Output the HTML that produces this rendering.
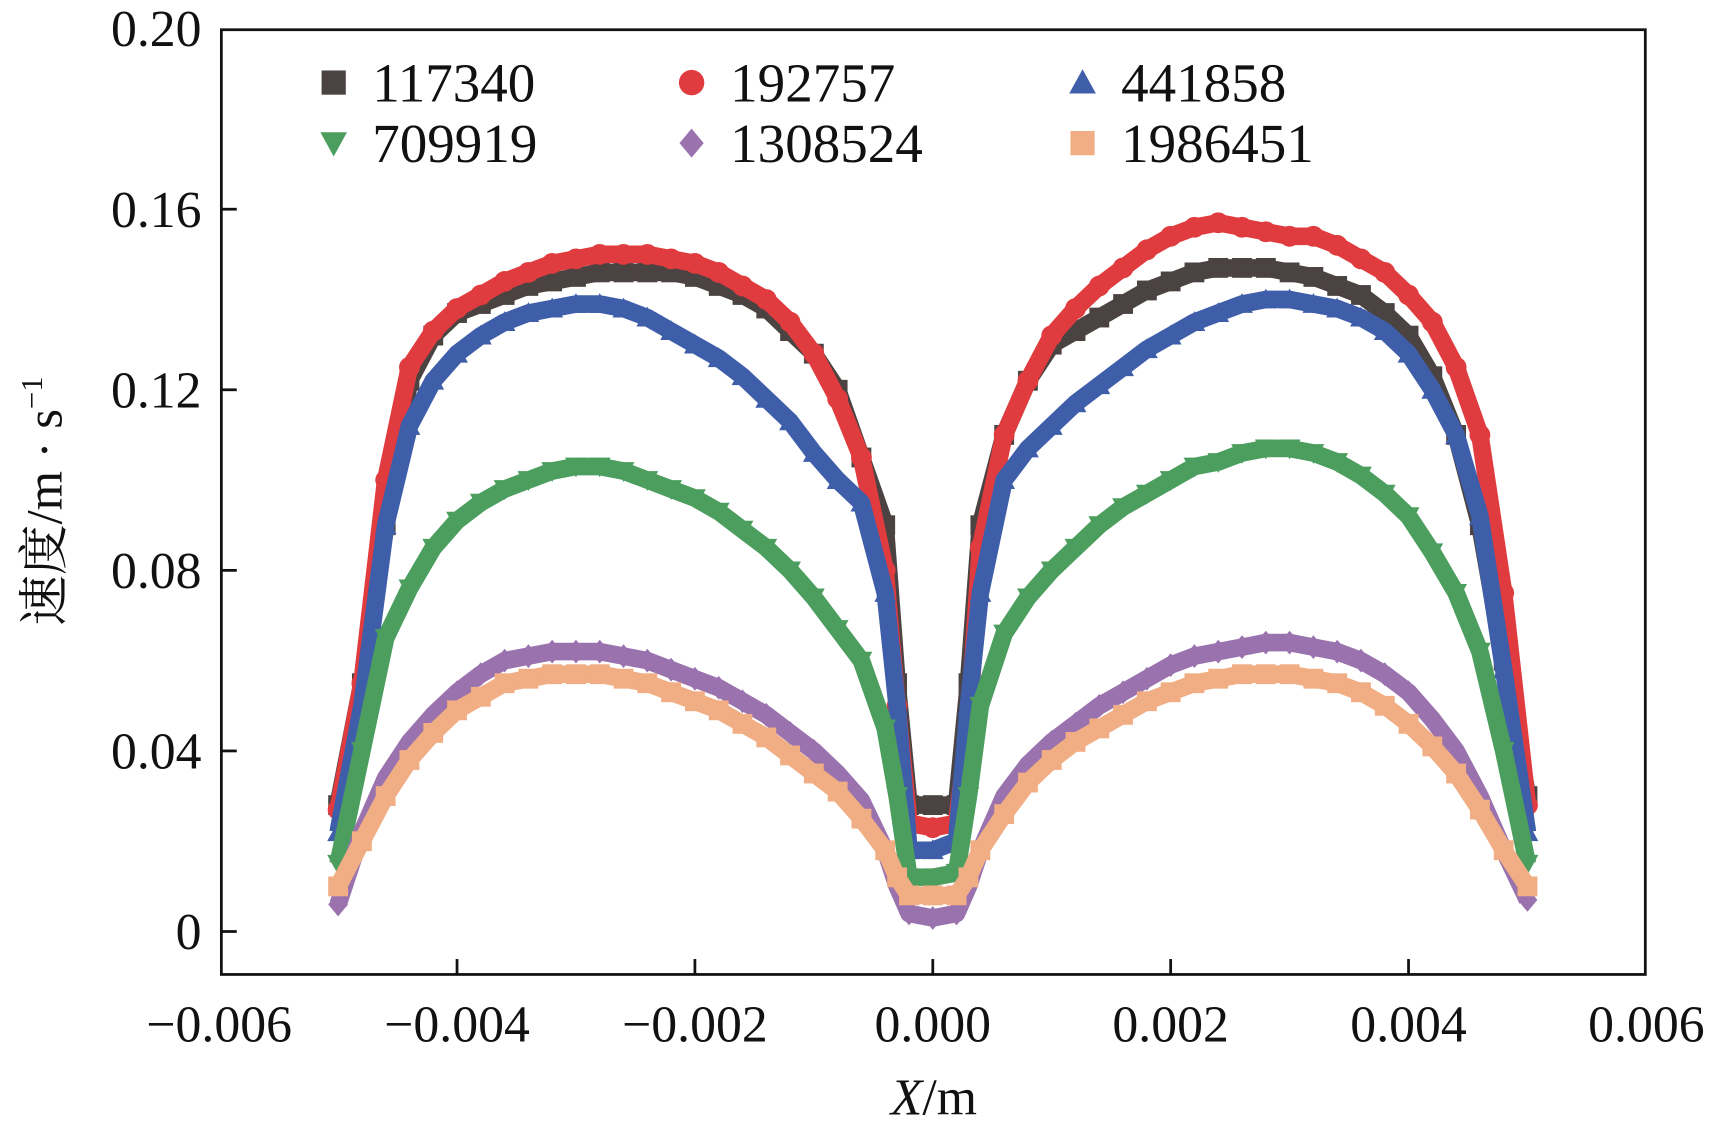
<!DOCTYPE html>
<html><head><meta charset="utf-8"><style>
html,body{margin:0;padding:0;background:#fff;}
svg{display:block;}
text{font-family:"Liberation Serif","Noto Serif CJK SC",serif;fill:#111;}
</style></head><body>
<svg id="chart" width="1718" height="1122" viewBox="0 0 1560 1019" preserveAspectRatio="none" xmlns="http://www.w3.org/2000/svg">
<rect x="0" y="0" width="1560" height="1019" fill="#fff"/>
<g id="marks"></g>
<g id="axes"></g>
<g id="legend"></g>
</svg>
<script>
const xs=[-0.005,-0.0048,-0.0046,-0.0044,-0.0042,-0.004,-0.0038,-0.0036,-0.0034,-0.0032,-0.003,-0.0028,-0.0026,-0.0024,-0.0022,-0.002,-0.0018,-0.0016,-0.0014,-0.0012,-0.001,-0.0008,-0.0006,-0.0004,-0.0003,-0.0002,0,0.0002,0.0003,0.0004,0.0006,0.0008,0.001,0.0012,0.0014,0.0016,0.0018,0.002,0.0022,0.0024,0.0026,0.0028,0.003,0.0032,0.0034,0.0036,0.0038,0.004,0.0042,0.0044,0.0046,0.0048,0.005];
const s117340=[0.028,0.055,0.090,0.122,0.132,0.137,0.139,0.141,0.143,0.144,0.145,0.146,0.146,0.146,0.146,0.145,0.143,0.141,0.138,0.133,0.128,0.120,0.105,0.090,0.055,0.028,0.028,0.028,0.055,0.090,0.110,0.122,0.130,0.133,0.136,0.139,0.142,0.144,0.146,0.147,0.147,0.147,0.146,0.145,0.143,0.141,0.137,0.132,0.123,0.110,0.090,0.060,0.030];
const s192757=[0.027,0.055,0.100,0.125,0.133,0.138,0.141,0.144,0.146,0.148,0.149,0.150,0.150,0.150,0.149,0.148,0.146,0.143,0.140,0.135,0.128,0.118,0.105,0.080,0.050,0.024,0.023,0.024,0.045,0.085,0.110,0.122,0.132,0.138,0.143,0.147,0.151,0.154,0.156,0.157,0.156,0.155,0.154,0.154,0.152,0.149,0.146,0.141,0.135,0.125,0.110,0.075,0.028];
const s441858=[0.022,0.050,0.090,0.112,0.122,0.128,0.132,0.135,0.137,0.138,0.139,0.139,0.138,0.136,0.133,0.130,0.127,0.123,0.118,0.113,0.106,0.100,0.095,0.075,0.050,0.018,0.018,0.020,0.050,0.075,0.100,0.107,0.112,0.117,0.121,0.125,0.129,0.132,0.135,0.137,0.139,0.140,0.140,0.139,0.138,0.136,0.133,0.128,0.120,0.110,0.092,0.058,0.022];
const s709919=[0.015,0.040,0.065,0.076,0.085,0.091,0.095,0.098,0.100,0.102,0.103,0.103,0.102,0.100,0.098,0.096,0.093,0.089,0.085,0.080,0.074,0.067,0.060,0.045,0.030,0.012,0.012,0.013,0.030,0.050,0.066,0.074,0.080,0.085,0.090,0.094,0.097,0.100,0.103,0.104,0.106,0.107,0.107,0.106,0.104,0.101,0.097,0.092,0.084,0.075,0.062,0.040,0.015];
const s1308524=[0.006,0.022,0.034,0.042,0.048,0.053,0.057,0.060,0.061,0.062,0.062,0.062,0.061,0.060,0.058,0.056,0.054,0.051,0.048,0.044,0.040,0.035,0.029,0.018,0.010,0.004,0.003,0.004,0.010,0.018,0.030,0.037,0.042,0.046,0.050,0.053,0.056,0.059,0.061,0.062,0.063,0.064,0.064,0.063,0.062,0.060,0.057,0.053,0.047,0.040,0.030,0.018,0.007];
const s1986451=[0.010,0.020,0.030,0.038,0.044,0.049,0.052,0.055,0.056,0.057,0.057,0.057,0.056,0.055,0.053,0.051,0.049,0.046,0.043,0.039,0.035,0.031,0.025,0.018,0.012,0.008,0.008,0.008,0.012,0.018,0.026,0.033,0.038,0.042,0.045,0.048,0.051,0.053,0.055,0.056,0.057,0.057,0.057,0.056,0.055,0.053,0.050,0.046,0.041,0.035,0.027,0.018,0.010];
const seriesNames=["117340","192757","441858","709919","1308524","1986451"];
const xTicks=[-0.006,-0.004,-0.002,0,0.002,0.004,0.006];
const xTickLabels=["\u22120.006","\u22120.004","\u22120.002","0.000","0.002","0.004","0.006"];
const yTicks=[0,0.04,0.08,0.12,0.16,0.20];
const yTickLabels=["0","0.04","0.08","0.12","0.16","0.20"];

const NS="http://www.w3.org/2000/svg";
const L=201,R=1494,T=27,B=885;
const xScale=v=>847+v*108000;
const yScale=v=>846-v*4100;
function mk(tag,attrs,parent){const e=document.createElementNS(NS,tag);for(const k in attrs)e.setAttribute(k,attrs[k]);parent.appendChild(e);return e;}
const series=[
 {vals:s117340,color:"#4b4341",shape:"square"},
 {vals:s192757,color:"#e03b3e",shape:"circle"},
 {vals:s441858,color:"#3f5ea9",shape:"tri"},
 {vals:s709919,color:"#4c9e5e",shape:"tridown"},
 {vals:s1308524,color:"#9a73ae",shape:"diamond"},
 {vals:s1986451,color:"#f1ad83",shape:"square"}];
function marker(shape,cx,cy,sz,color,parent){
 const h=sz/2;let e;
 if(shape==="square")e=mk("rect",{x:cx-h,y:cy-h,width:sz,height:sz,fill:color},parent);
 else if(shape==="circle")e=mk("circle",{cx:cx,cy:cy,r:h*1.05,fill:color},parent);
 else if(shape==="tri")e=mk("polygon",{points:`${cx},${cy-h*1.1} ${cx+h*1.1},${cy+h*0.9} ${cx-h*1.1},${cy+h*0.9}`,fill:color},parent);
 else if(shape==="tridown")e=mk("polygon",{points:`${cx},${cy+h*1.1} ${cx+h*1.1},${cy-h*0.9} ${cx-h*1.1},${cy-h*0.9}`,fill:color},parent);
 else e=mk("polygon",{points:`${cx},${cy-h*1.2} ${cx+h},${cy} ${cx},${cy+h*1.2} ${cx-h},${cy}`,fill:color},parent);
 return e;
}
const marks=document.getElementById("marks");
series.forEach((s,i)=>{
 const g=mk("g",{},marks);
 
 
 const pts=xs.map((x,j)=>xScale(x)+","+yScale(s.vals[j])).join(" ");
 const band=mk("polyline",{points:pts,fill:"none",stroke:s.color,"stroke-width":16,"stroke-linejoin":"round"},g);
 
 
 xs.forEach((x,j)=>{
  const m=marker(s.shape,xScale(x),yScale(s.vals[j]),18,s.color,g);
  
  
 });
});
const axes=document.getElementById("axes");
const frame=mk("rect",{x:L,y:T,width:R-L,height:B-T,fill:"none",stroke:"#111","stroke-width":2.5},axes);


yTicks.forEach((v,i)=>{
 const y=yScale(v);
 if(i<yTicks.length-1){const t=mk("line",{x1:L,x2:L+14,y1:y,y2:y,stroke:"#111","stroke-width":2.5},axes);
 }
 const tx=mk("text",{x:183,y:y+16,"text-anchor":"end","font-size":47},axes);
 tx.textContent=yTickLabels[i];
 
 
});
xTicks.forEach((v,i)=>{
 const x=xScale(v);
 if(i>0&&i<xTicks.length-1){const t=mk("line",{x1:x,x2:x,y1:B,y2:B-14,stroke:"#111","stroke-width":2.5},axes);
 }
 const tx=mk("text",{x:x,y:946,"text-anchor":"middle","font-size":47},axes);
 tx.textContent=xTickLabels[i];
 
 
});
const xt=mk("text",{x:848,y:1012,"text-anchor":"middle","font-size":47},axes);
xt.innerHTML='<tspan font-style="italic">X</tspan>/m';


const yt=mk("text",{x:0,y:0,"text-anchor":"middle","font-size":46,transform:"translate(56,455) rotate(-90)"},axes);
yt.innerHTML='速度/m · s<tspan dy="-18" font-size="28">−1</tspan>';


const legend=document.getElementById("legend");
const lx=[303,628,983],ly=[75,130];
series.forEach((s,i)=>{
 const cx=lx[i%3],cy=ly[Math.floor(i/3)];
 const g=mk("g",{},legend);
 
 
 marker(s.shape,cx,cy,22,s.color,g);
 const t=mk("text",{x:cx+35,y:cy+17,"font-size":50},g);
 t.textContent=seriesNames[i];
});
</script>
</body></html>
